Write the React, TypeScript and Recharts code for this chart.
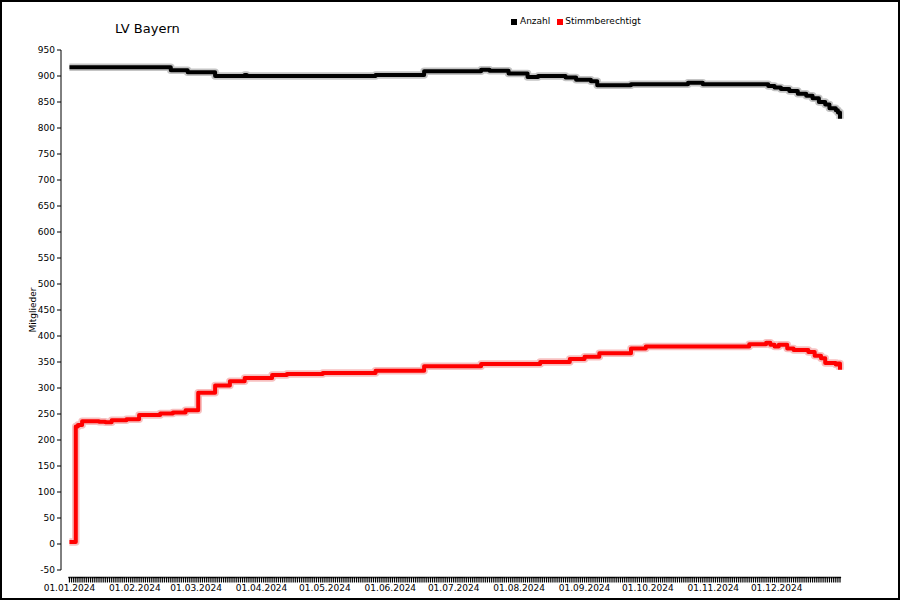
import { LineChart, Line, XAxis, YAxis } from 'recharts';

const FONT = "'DejaVu Sans', Verdana, sans-serif";

// day of year 2024 (0 = 01.01.2024) on which the count changes
const anzahlDays = [0, 48, 56, 69, 83, 84, 145, 168, 195, 199, 208, 217, 222, 235, 240, 247, 250, 266, 293, 300, 331, 334, 337, 341, 345, 349, 352, 355, 358, 360, 363, 364, 365];
const anzahlValues = [917, 911, 907, 900, 902, 900, 902, 909, 912, 910, 905, 898, 900, 897, 893, 890, 882, 884, 887, 884, 881, 878, 875, 871, 866, 862, 857, 850, 845, 838, 834, 830, 818];

const stimmDays = [0, 3, 4, 6, 14, 17, 20, 27, 33, 43, 49, 55, 61, 69, 76, 83, 96, 103, 120, 145, 168, 195, 223, 237, 244, 251, 266, 273, 322, 330, 332, 334, 336, 340, 343, 350, 353, 356, 358, 363, 364, 365];
const stimmValues = [4, 226, 229, 236, 235, 234, 238, 240, 248, 251, 253, 257, 291, 305, 313, 319, 325, 327, 329, 333, 342, 346, 350, 356, 360, 367, 376, 380, 384, 387, 383, 380, 383, 376, 373, 369, 362, 357, 348, 345, 347, 335];

const yTicks = [-50, 0, 50, 100, 150, 200, 250, 300, 350, 400, 450, 500, 550, 600, 650, 700, 750, 800, 850, 900, 950];
const monthStarts = [0, 31, 60, 91, 121, 152, 182, 213, 244, 274, 305, 335];
const monthLabels = ['01.01.2024', '01.02.2024', '01.03.2024', '01.04.2024', '01.05.2024', '01.06.2024', '01.07.2024', '01.08.2024', '01.09.2024', '01.10.2024', '01.11.2024', '01.12.2024'];

// one tick mark per day
const dayTicks = Array.from({ length: 366 }, (_, i) => i);

const anzahlData = anzahlDays.map((day, i) => ({ day, value: anzahlValues[i] }));
const stimmData = stimmDays.map((day, i) => ({ day, value: stimmValues[i] }));

function DayTick({ x, y, payload }: any) {
  const m = monthStarts.indexOf(payload.value);
  return (
    <g>
      <line x1={x - 1.1} x2={x + 1.1} y1={y + 7.5} y2={y + 7.5} stroke="#000" strokeWidth={1.5} />
      <line x1={x} x2={x} y1={y + 7} y2={y + 12.5} stroke="#000" strokeWidth={1.2} />
      {m >= 0 && (
        <text x={x} y={y + 21} textAnchor="middle" fontSize={9} fontFamily={FONT} fill="#000">
          {monthLabels[m]}
        </text>
      )}
    </g>
  );
}

export default function App() {
  return (
    <div
      style={{
        position: 'absolute',
        left: 0,
        top: 0,
        width: 900,
        height: 600,
        background: '#fff',
        boxShadow: 'inset 0 0 0 2px #000',
        fontFamily: FONT,
      }}
    >
      <div style={{ position: 'absolute', left: 115, top: 22, fontSize: 13, lineHeight: '13px', color: '#000' }}>
        LV Bayern
      </div>
      <div style={{ position: 'absolute', left: 511, top: 17, fontSize: 9, lineHeight: '9px', color: '#000', display: 'flex', alignItems: 'center' }}>
        <span style={{ width: 6, height: 6, background: '#000', marginRight: 3 }} />
        <span style={{ marginRight: 7 }}>Anzahl</span>
        <span style={{ width: 6, height: 6, background: '#f00', marginRight: 2 }} />
        <span>Stimmberechtigt</span>
      </div>
      <LineChart width={900} height={600} margin={{ top: 50, right: 60, left: 0, bottom: 0 }}>
        <XAxis
          type="number"
          dataKey="day"
          domain={[-4, 365]}
          ticks={dayTicks}
          interval={0}
          axisLine={false}
          tickLine={false}
          tickSize={0}
          tickMargin={0}
          height={30}
          tick={(props: any) => <DayTick {...props} />}
        />
        <YAxis
          type="number"
          domain={[-50, 950]}
          ticks={yTicks}
          interval={0}
          width={61}
          tickSize={4}
          tickMargin={2}
          axisLine={{ stroke: '#000' }}
          tickLine={{ stroke: '#000' }}
          tick={{ fontSize: 9, fontFamily: FONT, fill: '#000' }}
          label={{ value: 'Mitglieder', angle: -90, position: 'center', dx: 2, style: { fontSize: 9, fontFamily: FONT, fill: '#000' } }}
        />
        <Line data={anzahlData} dataKey="value" type="stepAfter" stroke="#c4c4c4" strokeWidth={7.5} strokeLinejoin="round" dot={false} activeDot={false} legendType="none" isAnimationActive={false} />
        <Line data={anzahlData} dataKey="value" name="Anzahl" type="stepAfter" stroke="#000" strokeWidth={4} strokeLinejoin="round" dot={false} activeDot={false} isAnimationActive={false} />
        <Line data={stimmData} dataKey="value" type="stepAfter" stroke="#f7c0c0" strokeWidth={7.5} strokeLinejoin="round" dot={false} activeDot={false} legendType="none" isAnimationActive={false} />
        <Line data={stimmData} dataKey="value" name="Stimmberechtigt" type="stepAfter" stroke="#f00" strokeWidth={4} strokeLinejoin="round" dot={false} activeDot={false} isAnimationActive={false} />
      </LineChart>
    </div>
  );
}
